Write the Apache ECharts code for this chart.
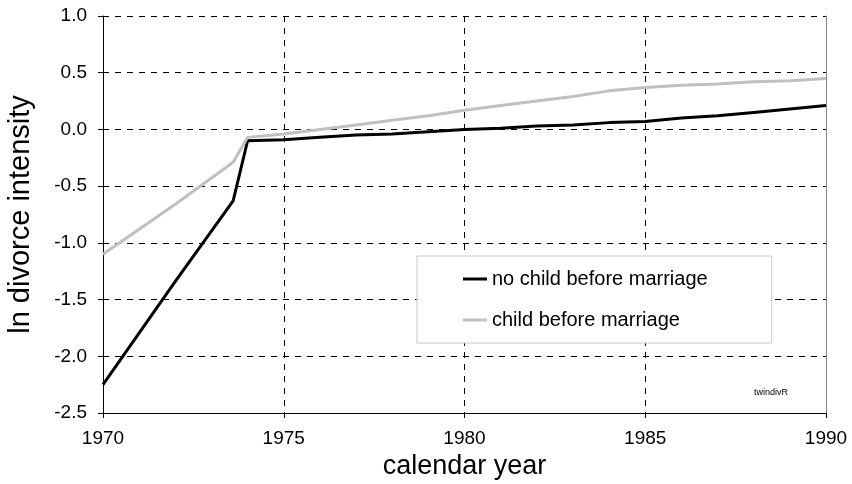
<!DOCTYPE html>
<html><head><meta charset="utf-8">
<script src="https://cdn.jsdelivr.net/npm/echarts@6/dist/echarts.min.js"></script>
<style>html,body{margin:0;padding:0;background:#fff}#c{width:852px;height:484px}</style>
</head><body><div id="c"></div>
<script>
const years = [1970, 1972, 1973.6, 1974, 1975, 1976, 1977, 1978, 1979, 1980, 1981, 1982, 1983, 1984, 1985, 1986, 1987, 1988, 1989, 1990];
const noChild = [-2.25, -1.34, -0.63, -0.10, -0.09, -0.07, -0.05, -0.04, -0.02, 0.00, 0.01, 0.03, 0.04, 0.06, 0.07, 0.10, 0.12, 0.15, 0.18, 0.21];
const childBefore = [-1.10, -0.66, -0.29, -0.07, -0.04, 0.00, 0.04, 0.08, 0.12, 0.17, 0.21, 0.25, 0.29, 0.34, 0.37, 0.39, 0.40, 0.42, 0.43, 0.45];
const seriesNames = ['no child before marriage', 'child before marriage'];
const xTitle = 'calendar year';
const yTitle = 'ln divorce intensity';
const note = 'twindivR';

const font = 'Liberation Sans, Arial, sans-serif';
const chart = echarts.init(document.getElementById('c'));
chart.setOption({
  animation: false,
  grid: {left: 103, right: 26, top: 16, bottom: 71, outerBoundsMode: 'none', containLabel: false},
  xAxis: {
    type: 'value', min: 1970, max: 1990, interval: 5,
    name: xTitle, nameLocation: 'middle', nameGap: 40,
    nameTextStyle: {fontFamily: font, fontSize: 27, color: '#000'},
    axisLine: {show: true, onZero: false, lineStyle: {color: '#000', width: 1}},
    axisTick: {show: true, length: 5, lineStyle: {color: '#000'}},
    axisLabel: {fontFamily: font, fontSize: 19, color: '#000', margin: 16, formatter: v => String(v)},
    splitLine: {show: true, lineStyle: {color: '#000', type: [6, 6], width: 1}}
  },
  yAxis: [{
    type: 'value', min: -2.5, max: 1, interval: 0.5,
    name: yTitle, nameLocation: 'middle', nameGap: 68,
    nameTextStyle: {fontFamily: font, fontSize: 29, color: '#000'},
    axisLine: {show: true, onZero: false, lineStyle: {color: '#000', width: 1}},
    axisTick: {show: true, length: 5, lineStyle: {color: '#000'}},
    axisLabel: {fontFamily: font, fontSize: 19, color: '#000', margin: 16, formatter: v => v.toFixed(1)},
    splitLine: {show: true, lineStyle: {color: '#000', type: [6, 6], width: 1}}
  }, {
    type: 'value', min: -2.5, max: 1, interval: 0.5, position: 'right',
    axisLine: {show: true, lineStyle: {color: '#888', width: 1}},
    axisTick: {show: false}, axisLabel: {show: false}, splitLine: {show: false}
  }],
  legend: {
    orient: 'vertical', left: 417, top: 256,
    padding: [13, 64, 13, 46], itemGap: 21,
    borderColor: '#c8c8c8', borderWidth: 1, backgroundColor: '#fff',
    icon: 'rect', itemWidth: 24, itemHeight: 3,
    textStyle: {fontFamily: font, fontSize: 20, color: '#000'},
    data: seriesNames
  },
  graphic: [{
    type: 'text', right: 64, top: 388,
    style: {text: note, fontFamily: font, fontSize: 9, fill: '#000'}
  }],
  series: [{
    name: seriesNames[0], type: 'line', symbol: 'none',
    data: years.map((y, i) => [y, noChild[i]]),
    lineStyle: {color: '#000', width: 3}, itemStyle: {color: '#000'}
  }, {
    name: seriesNames[1], type: 'line', symbol: 'none',
    data: years.map((y, i) => [y, childBefore[i]]),
    lineStyle: {color: '#c0c0c0', width: 3}, itemStyle: {color: '#c0c0c0'}
  }]
});
</script></body></html>
